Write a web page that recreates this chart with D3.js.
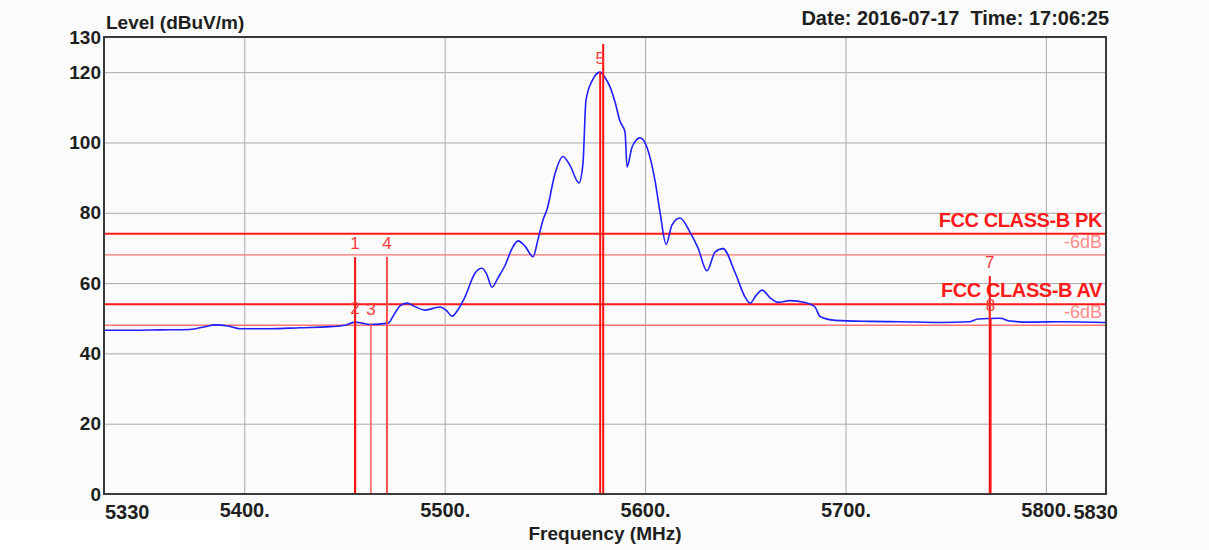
<!DOCTYPE html>
<html>
<head>
<meta charset="utf-8">
<script src="https://cdn.jsdelivr.net/npm/d3@7"></script>
<style>
  body { margin: 0; background: #fafbfa; }
  svg text { font-family: "Liberation Sans", Arial, sans-serif; }
</style>
</head>
<body>
<div id="chart"></div>
<script>

// trace (MHz, dBuV/m)
var freqs = [5330.0, 5343.0, 5357.9, 5372.9, 5380.4, 5385.4, 5391.9, 5397.9, 5412.8, 5427.8,
    5442.8, 5450.3, 5455.2, 5458.7, 5462.7, 5471.7, 5475.2, 5477.7, 5481.2, 5485.2,
    5490.2, 5494.2, 5497.7, 5500.7, 5503.7, 5506.7, 5510.1, 5515.1, 5518.6, 5521.0,
    5523.6, 5526.6, 5530.1, 5533.6, 5536.6, 5540.1, 5544.1, 5546.6, 5549.1, 5551.1,
    5555.0, 5559.0, 5562.5, 5567.0, 5569.0, 5570.5, 5574.0, 5577.5, 5580.0, 5582.5,
    5585.0, 5587.5, 5590.0, 5591.0, 5593.5, 5597.5, 5601.0, 5605.0, 5607.5, 5610.5,
    5613.4, 5617.4, 5622.4, 5626.4, 5630.9, 5634.9, 5638.9, 5644.9, 5649.9, 5652.4,
    5655.4, 5658.4, 5662.4, 5666.3, 5672.3, 5679.8, 5684.8, 5687.3, 5694.8, 5712.2,
    5727.2, 5747.2, 5762.1, 5766.1, 5777.1, 5782.1, 5792.1, 5807.0, 5830.0];
var levels = [46.6, 46.6, 46.7, 46.8, 47.6, 48.1, 47.8, 47.0, 47.0, 47.3,
    47.6, 48.0, 48.9, 48.6, 48.2, 48.6, 51.5, 53.5, 54.3, 53.3,
    52.3, 52.8, 53.2, 52.3, 50.6, 52.5, 56.0, 62.8, 64.2, 62.5,
    58.8, 61.5, 65.0, 69.8, 72.0, 70.5, 67.5, 72.5, 78.0, 81.0,
    91.0, 96.0, 93.5, 88.5, 94.0, 112.0, 118.0, 120.0, 118.5, 115.8,
    111.5, 106.0, 103.0, 93.0, 98.7, 101.3, 98.5, 89.0, 80.0, 71.0,
    76.5, 78.5, 74.5, 70.0, 63.5, 68.8, 69.8, 63.0, 56.0, 54.3,
    56.5, 58.0, 55.8, 54.5, 55.0, 54.5, 53.2, 50.5, 49.4, 49.1,
    49.0, 48.8, 49.0, 49.8, 50.0, 49.2, 48.9, 49.0, 48.8];

// limit lines
var limitNames = ["FCC CLASS-B PK", "-6dB", "FCC CLASS-B AV", "-6dB"];
var limitLevels = [74, 68, 54, 48];
var limitMain = [true, false, true, false];

// markers
var markerIds = ["1", "2", "3", "4", "5", "6", "7", "8"];
var markerFreqs = [5455.3, 5455.3, 5463.2, 5471.2, 5577.6, 5579.1, 5772.0, 5772.4];
var markerLevels = [67.4, 48.8, 48.6, 67.4, 120.0, 128.0, 62.0, 49.8];

var xTicks = [5400, 5500, 5600, 5700, 5800];
var yTicks = [0, 20, 40, 60, 80, 100, 120, 130];
var xDomain = [5330, 5830];
var yDomain = [0, 130];


SpectrumChart = function(_parentElement) {
    this.parentElement = _parentElement;
    this.initVis();
};

SpectrumChart.prototype.initVis = function() {
    var vis = this;
    vis.margin = { top: 37, right: 103, bottom: 56, left: 104 };
    vis.width = 1209 - vis.margin.left - vis.margin.right;
    vis.height = 550 - vis.margin.top - vis.margin.bottom;

    vis.root = d3.select("#" + vis.parentElement).append("svg")
        .attr("width", 1209)
        .attr("height", 550);

    vis.root.append("rect")
        .attr("x", 0).attr("y", 520)
        .attr("width", 240).attr("height", 30)
        .attr("fill", "#ffffff");

    vis.svg = vis.root.append("g")
        .attr("transform", "translate(" + vis.margin.left + "," + vis.margin.top + ")");

    vis.x = d3.scaleLinear().domain(xDomain).range([0, vis.width]);
    vis.y = d3.scaleLinear().domain(yDomain).range([vis.height, 0]);

    vis.svg.append("clipPath").attr("id", "plot-clip")
        .append("rect")
        .attr("width", vis.width).attr("height", vis.height);

    vis.updateVis();
};

SpectrumChart.prototype.updateVis = function() {
    var vis = this;

    // grid
    vis.svg.append("g")
        .attr("class", "grid-x")
        .call(d3.axisBottom(vis.x).tickValues(xTicks).tickSize(vis.height).tickFormat(""))
        .call(function(g) {
            g.select(".domain").remove();
            g.selectAll("line").attr("stroke", "#a9a9a9");
        });

    vis.svg.append("g")
        .attr("class", "grid-y")
        .call(d3.axisLeft(vis.y).tickValues(yTicks.filter(function(d) { return d > 0 && d < 130; }))
            .tickSize(-vis.width).tickFormat(""))
        .call(function(g) {
            g.select(".domain").remove();
            g.selectAll("line").attr("stroke", "#a9a9a9");
        });

    // limit lines
    var limits = limitLevels.map(function(v, i) {
        return { name: limitNames[i], level: v, main: limitMain[i] };
    });

    vis.svg.selectAll("line.limit")
        .data(limits)
        .enter()
        .append("line")
        .attr("class", "limit")
        .attr("x1", 0).attr("x2", vis.width)
        .attr("y1", function(d) { return vis.y(d.level); })
        .attr("y2", function(d) { return vis.y(d.level); })
        .attr("stroke", function(d) { return d.main ? "#ff1a1a" : "#ff7373"; })
        .attr("stroke-width", function(d) { return d.main ? 2 : 1.3; });

    vis.svg.selectAll("text.limit-label")
        .data(limits)
        .enter()
        .append("text")
        .attr("class", "limit-label")
        .attr("x", vis.width - 4)
        .attr("y", function(d) { return vis.y(d.level) - 7; })
        .attr("text-anchor", "end")
        .attr("fill", function(d) { return d.main ? "#ff1a1a" : "#ff8c8c"; })
        .style("font-size", function(d) { return d.main ? "20px" : "18px"; })
        .style("font-weight", function(d) { return d.main ? "bold" : "normal"; })
        .style("letter-spacing", function(d) { return d.main ? "-0.4px" : "0px"; })
        .text(function(d) { return d.name; });

    // trace
    var trace = freqs.map(function(f, i) { return [f, levels[i]]; });
    vis.svg.append("path")
        .datum(trace)
        .attr("clip-path", "url(#plot-clip)")
        .attr("fill", "none")
        .attr("stroke", "#1f1fff")
        .attr("stroke-width", 1.6)
        .attr("d", d3.line()
            .x(function(d) { return vis.x(d[0]); })
            .y(function(d) { return vis.y(d[1]); })
            .curve(d3.curveMonotoneX));

    // markers
    var markers = markerIds.map(function(id, i) {
        return { id: id, freq: markerFreqs[i], level: markerLevels[i] };
    });

    var mk = vis.svg.append("g").attr("clip-path", "url(#plot-clip)");

    mk.selectAll("line.marker")
        .data(markers)
        .enter()
        .append("line")
        .attr("class", "marker")
        .attr("x1", function(d) { return vis.x(d.freq); })
        .attr("x2", function(d) { return vis.x(d.freq); })
        .attr("y1", vis.height)
        .attr("y2", function(d) { return vis.y(d.level); })
        .attr("stroke", function(d) { return d.id == "3" || d.id == "4" ? "#ff4d4d" : "#ff1010"; })
        .attr("stroke-width", function(d) { return d.id == "3" ? 1.4 : 2; });

    mk.selectAll("text.marker-label")
        .data(markers)
        .enter()
        .append("text")
        .attr("class", "marker-label")
        .attr("x", function(d) { return vis.x(d.freq); })
        .attr("y", function(d) { return vis.y(d.level) - 8; })
        .attr("text-anchor", "middle")
        .attr("fill", "#ff3b3b")
        .style("font-size", "17px")
        .text(function(d) { return d.id; });

    // frame
    vis.svg.append("rect")
        .attr("width", vis.width)
        .attr("height", vis.height)
        .attr("fill", "none")
        .attr("stroke", "#3a3a3a")
        .attr("stroke-width", 2);

    // tick labels
    vis.svg.append("g")
        .attr("class", "y-axis")
        .call(d3.axisLeft(vis.y).tickValues(yTicks).tickSize(0).tickPadding(3))
        .call(function(g) {
            g.select(".domain").remove();
            g.selectAll("text")
                .attr("fill", "#1e1e1e")
                .style("font-size", "19px")
                .style("font-weight", "bold")
                .style("font-family", "'Liberation Sans', Arial, sans-serif");
        });

    vis.svg.append("g")
        .attr("class", "x-axis")
        .attr("transform", "translate(0," + vis.height + ")")
        .call(d3.axisBottom(vis.x).tickValues(xTicks).tickSize(0).tickPadding(9)
            .tickFormat(function(d) { return d + "."; }))
        .call(function(g) {
            g.select(".domain").remove();
            g.selectAll("text")
                .attr("fill", "#1e1e1e")
                .style("font-size", "20px")
                .style("font-weight", "bold")
                .style("font-family", "'Liberation Sans', Arial, sans-serif");
        });

    var axisText = function(sel) {
        sel.attr("fill", "#1e1e1e")
            .style("font-size", "19px")
            .style("font-weight", "bold");
    };

    vis.svg.append("text")
        .attr("x", vis.x(xDomain[0]) + 1)
        .attr("y", vis.height + 25)
        .call(axisText)
        .style("font-size", "20px")
        .text(xDomain[0]);

    vis.svg.append("text")
        .attr("x", vis.x(xDomain[1]) + 12)
        .attr("y", vis.height + 25)
        .attr("text-anchor", "end")
        .call(axisText)
        .style("font-size", "20px")
        .text(xDomain[1]);

    // titles
    vis.svg.append("text")
        .attr("x", 2)
        .attr("y", -8)
        .call(axisText)
        .text("Level (dBuV/m)");

    vis.svg.append("text")
        .attr("x", vis.width + 3)
        .attr("y", -12)
        .attr("text-anchor", "end")
        .call(axisText)
        .style("font-size", "20px")
        .attr("xml:space", "preserve")
        .style("white-space", "pre")
        .text("Date: 2016-07-17  Time: 17:06:25");

    vis.svg.append("text")
        .attr("x", vis.width / 2)
        .attr("y", vis.height + 46)
        .attr("text-anchor", "middle")
        .call(axisText)
        .text("Frequency (MHz)");
};

var chart = new SpectrumChart("chart");
</script>
</body>
</html>
